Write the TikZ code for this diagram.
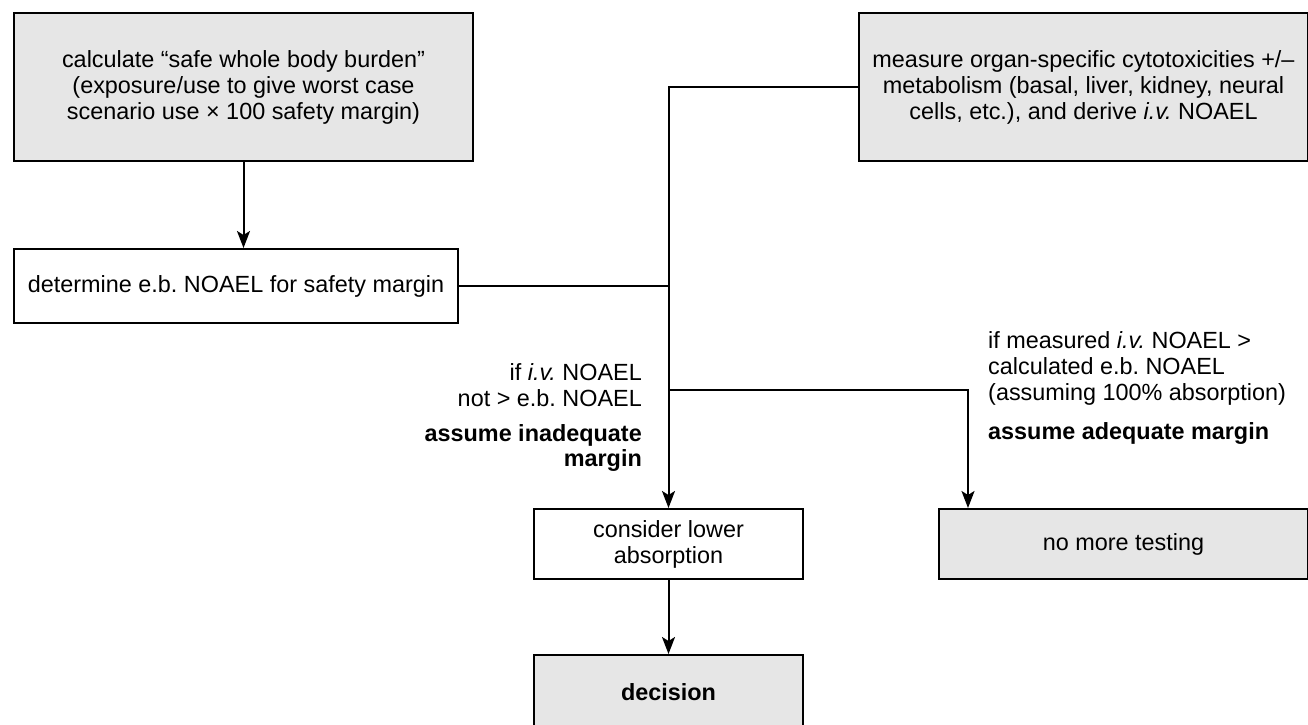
\documentclass[tikz,border=0pt]{standalone}
\usepackage{fontspec}
\setmainfont{Liberation Sans}
\usetikzlibrary{arrows.meta,positioning}
\frenchspacing

\definecolor{boxgrey}{HTML}{E6E6E6}
\tikzset{
  box/.style={draw, line width=2pt, align=center, inner sep=4pt, anchor=north west},
  greybox/.style={box, fill=boxgrey},
  link/.style={line width=2pt},
  arr/.style={link, -{Stealth[length=17pt,width=13pt,inset=4pt]}},
  lbl/.style={inner sep=0pt}
}

\begin{document}
\begin{tikzpicture}[x=1pt,y=-1pt,font=\fontsize{23.4}{26}\selectfont]
  \clip (0,0) rectangle (1308,724);
  \node[greybox, minimum width=459pt, minimum height=148pt] at (13,12) (calc)
    {calculate “safe whole body burden”\\(exposure/use to give worst case\\scenario use × 100 safety margin)};
  \node[greybox, minimum width=449pt, minimum height=148pt] at (858,12) (meas)
    {measure organ-specific cytotoxicities +/–\\metabolism (basal, liver, kidney, neural\\cells, etc.), and derive \textit{i.v.} NOAEL};
  \node[box, minimum width=444pt, minimum height=74pt] at (13,248) (ebn) {determine e.b. NOAEL for safety margin};
  \node[box, minimum width=269pt, minimum height=70pt] at (533,508) (lower) {consider lower\\absorption};
  \node[greybox, minimum width=369pt, minimum height=70pt] at (938,508) (nomore) {no more testing};
  \node[greybox, minimum width=269pt, minimum height=74pt] at (533,654) (dec) {\textbf{decision}};

  % branch labels
  \node[lbl, anchor=east, align=right] at (642,385) (notlbl) {if \textit{i.v.} NOAEL\\not > e.b. NOAEL};
  \node[lbl, anchor=north east, align=right, font=\fontsize{23.4}{25}\selectfont\bfseries] at (642,424) (inadq) {assume inadequate\\margin};
  \node[lbl, anchor=west, align=left] at (988,368) (yeslbl) {if measured \textit{i.v.} NOAEL >\\calculated e.b. NOAEL\\(assuming 100\% absorption)};
  \node[lbl, anchor=west, font=\fontsize{23.4}{26}\selectfont\bfseries] at (988,433) (adq) {assume adequate margin};

  \coordinate (split) at (668,390);
  \coordinate (yes) at (968,390);

  \draw[arr] (calc.south) -- (calc.south |- ebn.north);
  \draw[arr] (meas.west) -| (lower.north);
  \draw[link] (ebn.east) -- (ebn.east -| lower.north);
  \draw[arr] (split) -- (yes) -- (yes |- nomore.north);
  \draw[arr] (lower) -- (dec);
\end{tikzpicture}
\end{document}
